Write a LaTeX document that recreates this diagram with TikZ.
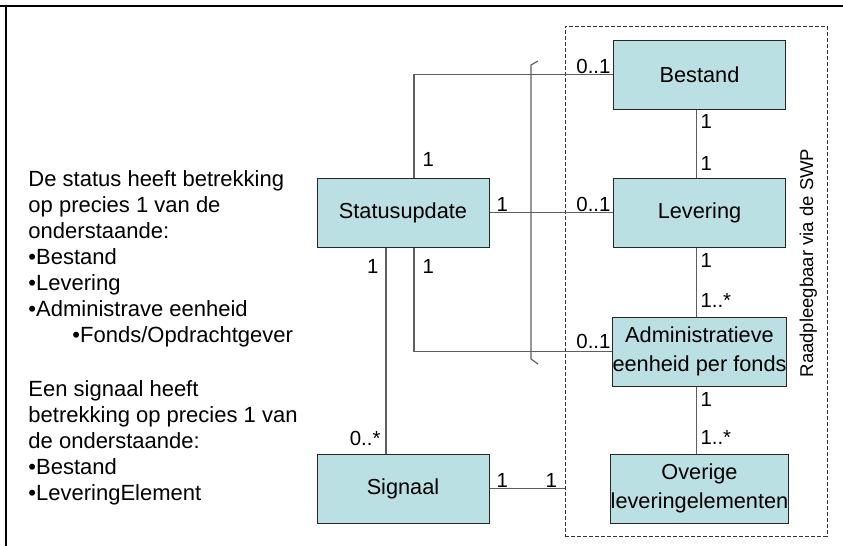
\documentclass[tikz,border=0pt]{standalone}
\usepackage{fontspec}
\setmainfont{Liberation Sans}
\definecolor{boxfill}{RGB}{187,224,227}
\definecolor{linegray}{RGB}{95,95,95}
\tikzset{every picture/.style={line width=0.75pt}}
\tikzset{
  umlbox/.style={draw=black!85, fill=boxfill, minimum width=129pt, minimum height=51.75pt, inner sep=0pt, align=center, font=\fontsize{16.3}{21.75}\selectfont},
  assoc/.style={draw=linegray, line width=0.85pt},
  mult/.style={inner sep=0pt, font=\fontsize{15.3}{18}\selectfont},
  note/.style={anchor=north west, inner sep=0pt, align=left, font=\fontsize{16.5}{19.5}\selectfont}
}

\begin{document}
\begin{tikzpicture}[x=0.75pt,y=0.75pt,yscale=-1,xscale=1]
\useasboundingbox (0,0) rectangle (843,546);

%Straight Lines (frame)
\draw [line width=1.9pt] (0,6) -- (843,6) ;
\draw [line width=1.4pt] (6,6) -- (6,546) ;

%Shape: Rectangle (dashed)
\node [draw=black!80, dash pattern=on 3pt off 1.5pt, minimum width=196.5pt, minimum height=382.5pt, inner sep=0pt] (swp) at (696,281) {};

%Shape: Rectangle
\node [umlbox] (stat) at (403,212.5) {Statusupdate};
\node [umlbox] (sig) at (403,488.5) {Signaal};
\node [umlbox] (best) at (699.5,74.5) {Bestand};
\node [umlbox] (lev) at (699.5,212.5) {Levering};
\node [umlbox] (adm) at (699.5,351.5) {Administratieve\\eenheid per fonds};
\node [umlbox] (ovr) at (699.5,488.5) {Overige\\leveringelementen};

%Straight Lines
\draw [assoc] ([xshift=8.25pt]stat.north) |- (best.west) ;
\draw [assoc] (stat.east) -- (lev.west) ;
\draw [assoc] ([xshift=8.25pt]stat.south) |- (adm.west) ;
\draw [assoc] ([xshift=-12.75pt]stat.south) -- ([xshift=-12.75pt]sig.north) ;
\draw [assoc] (sig.east) -- (sig.east -| swp.west) ;
\draw [assoc] ([xshift=-2.25pt]best.south) -- ([xshift=-2.25pt]lev.north) ;
\draw [assoc] ([xshift=-2.25pt]lev.south) -- ([xshift=-2.25pt]adm.north) ;
\draw [assoc] ([xshift=-2.25pt]adm.south) -- ([xshift=-2.25pt]ovr.north) ;
%Bracket
\draw [assoc] (538,61) -- (531,65) -- (531,359) -- (538,364) ;

% Text Node
\node [note] (statnote) at (28,170) {De status heeft betrekking\\op precies 1 van de\\onderstaande:\\•Bestand\\•Levering\\•Administrave eenheid\\\hspace*{33pt}•Fonds/Opdrachtgever};
% Text Node
\node [note] (signote) at (28,380) {Een signaal heeft\\betrekking op precies 1 van\\de onderstaande:\\•Bestand\\•LeveringElement};
% Text Node
\node [rotate=90, anchor=base, inner sep=0pt, font=\fontsize{13.9}{16}\selectfont] (swplabel) at (813,263) {Raadpleegbaar via de SWP};

% Text Node (multiplicities)
\node [mult, anchor=base west] (m1) at (422,166) {1};
\node [mult, anchor=base east] (m2) at (611,73) {0..1};
\node [mult, anchor=base west] (m3) at (496,211) {1};
\node [mult, anchor=base east] (m4) at (611,211) {0..1};
\node [mult, anchor=base west] (m5) at (422,273) {1};
\node [mult, anchor=base east] (m6) at (611,348) {0..1};
\node [mult, anchor=base east] (m7) at (379,273) {1};
\node [mult, anchor=base east] (m8) at (381,445) {0..*};
\node [mult, anchor=base west] (m9) at (496,487) {1};
\node [mult, anchor=base west] (m10) at (545,487) {1};
\node [mult, anchor=base west] (m11) at (700,128) {1};
\node [mult, anchor=base west] (m12) at (700,170) {1};
\node [mult, anchor=base west] (m13) at (700,267) {1};
\node [mult, anchor=base west] (m14) at (700,307) {1..*};
\node [mult, anchor=base west] (m15) at (700,406) {1};
\node [mult, anchor=base west] (m16) at (700,444) {1..*};

\end{tikzpicture}
\end{document}
